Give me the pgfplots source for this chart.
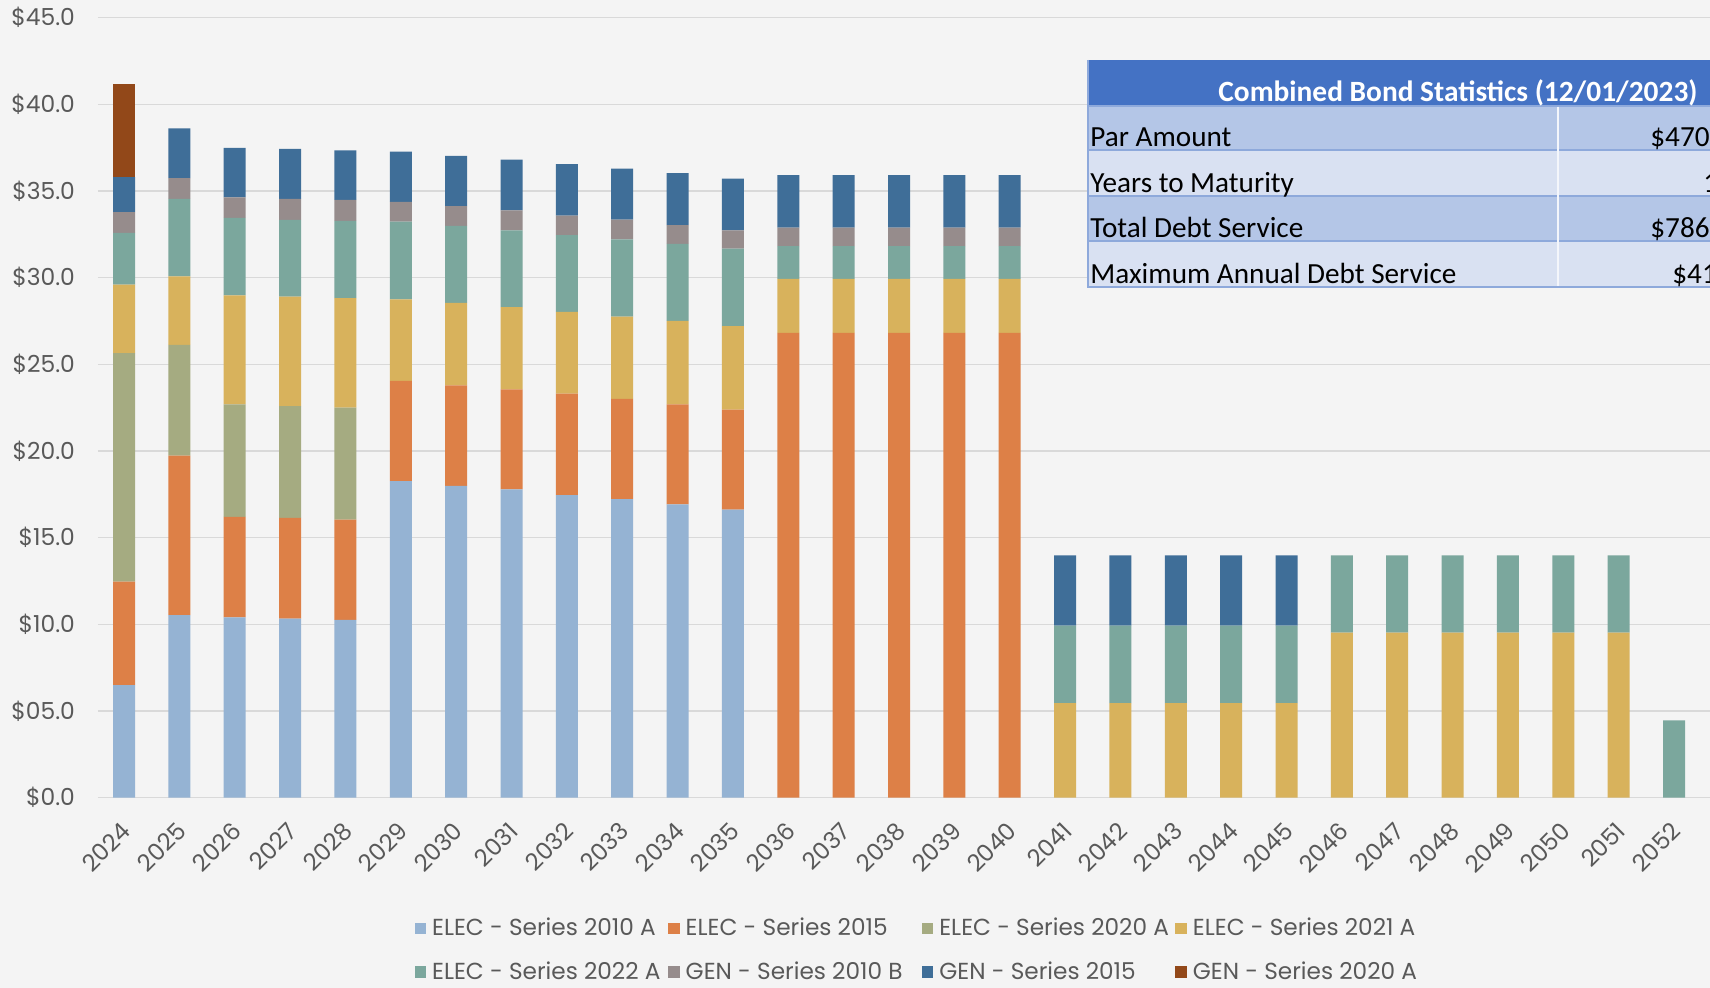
\documentclass[border=0pt]{standalone}
\usepackage{fontspec}
\setmainfont{Poppins}
\newfontfamily\carlito{Carlito}
\usepackage{pgfplots}
\pgfplotsset{compat=1.18}
\usepackage{pgfplotstable}
\definecolor{bg}{HTML}{F4F4F4}
\definecolor{gridc}{HTML}{D9D9D9}
\definecolor{txt}{HTML}{595959}
\definecolor{cA}{HTML}{95B3D3}
\definecolor{cB}{HTML}{DD8047}
\definecolor{cC}{HTML}{A5AB81}
\definecolor{cD}{HTML}{D8B25C}
\definecolor{cE}{HTML}{7BA79D}
\definecolor{cF}{HTML}{968C8C}
\definecolor{cG}{HTML}{3F6E98}
\definecolor{cH}{HTML}{924819}
\definecolor{thead}{HTML}{4472C4}
\definecolor{tdark}{HTML}{B4C6E7}
\definecolor{tlight}{HTML}{D9E1F2}
\definecolor{tline}{HTML}{8EA9DB}

\pgfplotstableread{
x  ea    eb    ec    ed   ee   gf   gg   gh
0  6.49  5.97  13.18 3.95 2.99 1.20 2.02 5.37
1  10.53 9.20  6.39  3.95 4.47 1.20 2.87 0
2  10.40 5.80  6.48  6.30 4.47 1.18 2.86 0
3  10.32 5.82  6.45  6.31 4.43 1.21 2.89 0
4  10.25 5.79  6.46  6.31 4.46 1.21 2.86 0
5  18.26 5.78  0     4.71 4.48 1.14 2.90 0
6  17.99 5.79  0     4.76 4.44 1.15 2.89 0
7  17.78 5.77  0     4.74 4.44 1.15 2.93 0
8  17.45 5.86  0     4.71 4.43 1.13 2.96 0
9  17.22 5.78  0     4.75 4.46 1.14 2.94 0
10 16.91 5.78  0     4.81 4.45 1.07 3.00 0
11 16.62 5.77  0     4.81 4.47 1.06 2.98 0
12 0     26.81 0     3.12 1.88 1.08 3.02 0
13 0     26.81 0     3.12 1.88 1.08 3.02 0
14 0     26.81 0     3.12 1.88 1.08 3.02 0
15 0     26.81 0     3.12 1.88 1.08 3.02 0
16 0     26.81 0     3.12 1.88 1.08 3.02 0
17 0     0     0     5.45 4.47 0    4.05 0
18 0     0     0     5.45 4.47 0    4.05 0
19 0     0     0     5.45 4.47 0    4.05 0
20 0     0     0     5.45 4.47 0    4.05 0
21 0     0     0     5.45 4.47 0    4.05 0
22 0     0     0     9.52 4.45 0    0    0
23 0     0     0     9.52 4.45 0    0    0
24 0     0     0     9.52 4.45 0    0    0
25 0     0     0     9.52 4.45 0    0    0
26 0     0     0     9.52 4.45 0    0    0
27 0     0     0     9.52 4.45 0    0    0
28 0     0     0     0    4.45 0    0    0
}\debt

\newcommand{\legtxt}[1]{\makebox[116pt][l]{#1}}

\begin{document}
\begin{tikzpicture}
\fill[bg] (-49pt,-95.2pt) rectangle (806pt,398.8pt);
\begin{axis}[
  at={(0pt,0pt)}, anchor=south west,
  scale only axis, width=806pt, height=390pt,
  ybar stacked, bar width=11pt,
  xmin=-0.47, xmax=28.65, ymin=0, ymax=45,
  axis line style={draw=none},
  major tick length=0pt,
  ymajorgrids, grid style={gridc, line width=0.7pt},
  xtick={0,...,28},
  xticklabels={2024,2025,2026,2027,2028,2029,2030,2031,2032,2033,2034,2035,2036,2037,2038,2039,2040,2041,2042,2043,2044,2045,2046,2047,2048,2049,2050,2051,2052},
  ytick={0,5,10,15,20,25,30,35,40,45},
  yticklabels={\$0.0,\$05.0,\$10.0,\$15.0,\$20.0,\$25.0,\$30.0,\$35.0,\$40.0,\$45.0},
  yticklabel style={font=\fontsize{11.7}{14}\selectfont, text=txt, xshift=-8pt},
  xticklabel style={font=\fontsize{11.8}{14}\selectfont, text=txt, xshift=3.6pt, yshift=-12.1pt, rotate=45, anchor=east},
  legend image code/.code={\fill[#1] (0pt,-2.9pt) rectangle (5.8pt,2.9pt);},
  legend columns=4,
  legend style={at={(0.511,-0.196)}, anchor=center, draw=none, fill=none,
    font=\fontsize{11.6}{13}\selectfont, text=txt, row sep=7.5pt,
    column sep=0pt, /tikz/every odd column/.style={column sep=1pt}},
  every axis plot/.append style={draw=none},
  clip=false,
]
\addplot[fill=cA] table[x=x,y=ea]{\debt};
\addplot[fill=cB] table[x=x,y=eb]{\debt};
\addplot[fill=cC] table[x=x,y=ec]{\debt};
\addplot[fill=cD] table[x=x,y=ed]{\debt};
\addplot[fill=cE] table[x=x,y=ee]{\debt};
\addplot[fill=cF] table[x=x,y=gf]{\debt};
\addplot[fill=cG] table[x=x,y=gg]{\debt};
\addplot[fill=cH] table[x=x,y=gh]{\debt};
\addlegendentry{\legtxt{ELEC -  Series 2010 A}}
\addlegendentry{\legtxt{ELEC -  Series 2015}}
\addlegendentry{\legtxt{ELEC -  Series 2020 A}}
\addlegendentry{\legtxt{ELEC -  Series 2021 A}}
\addlegendentry{\legtxt{ELEC -  Series 2022 A}}
\addlegendentry{\legtxt{GEN -  Series 2010 B}}
\addlegendentry{\legtxt{GEN -  Series 2015}}
\addlegendentry{\legtxt{GEN -  Series 2020 A}}
\end{axis}
\begin{scope}
\clip (-49pt,-95.2pt) rectangle (806pt,398.8pt);
\fill[thead] (495pt,345.8pt) rectangle (812pt,368.8pt);
\fill[tdark] (495pt,323.8pt) rectangle (812pt,345.8pt);
\fill[tlight] (495pt,300.8pt) rectangle (812pt,323.8pt);
\fill[tdark] (495pt,278.3pt) rectangle (812pt,300.8pt);
\fill[tlight] (495pt,255.3pt) rectangle (812pt,278.3pt);
\draw[tline, line width=0.6pt] (495pt,368.8pt) -- (495pt,255.3pt) -- (812pt,255.3pt);
\foreach \yy in {345.8,323.8,300.8,278.3} \draw[tline, line width=0.6pt] (495pt,\yy pt) -- (812pt,\yy pt);
\draw[white!85!tdark, line width=0.8pt] (730pt,345.5pt) -- (730pt,255.6pt);
\node[anchor=base west, inner sep=0pt, text=white, font=\carlito\bfseries\fontsize{14.7}{16}\selectfont] at (560pt,347.8pt) {Combined Bond Statistics (12/01/2023)};
\begin{scope}[every node/.style={anchor=base west, inner sep=0pt, text=black, font=\carlito\fontsize{14.6}{16}\selectfont}]
\node at (496pt,325.3pt) {Par Amount};
\node at (496pt,302.3pt) {Years to Maturity};
\node at (496pt,279.8pt) {Total Debt Service};
\node at (496pt,256.8pt) {Maximum Annual Debt Service};
\node at (776pt,325.3pt) {\$470};
\node at (802.5pt,302.3pt) {1};
\node at (776pt,279.8pt) {\$786};
\node at (787pt,256.8pt) {\$41};
\end{scope}
\end{scope}
\pgfresetboundingbox
\path[use as bounding box] (-49pt,-95.2pt) rectangle (806pt,398.8pt);
\end{tikzpicture}
\end{document}
